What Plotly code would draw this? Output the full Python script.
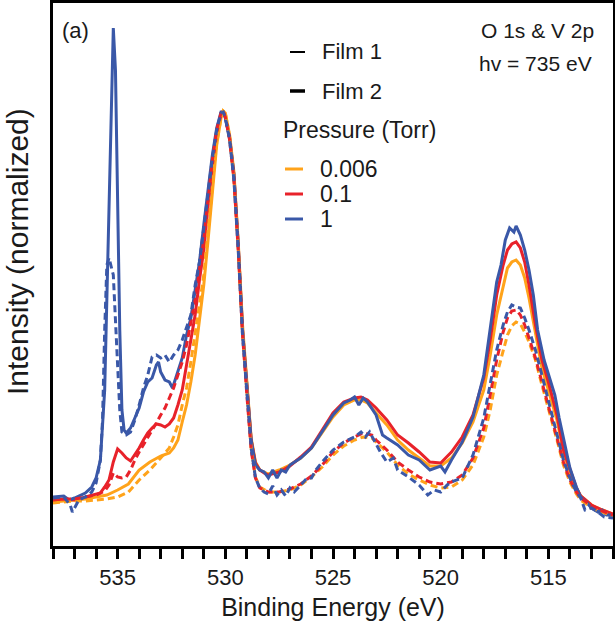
import plotly.graph_objects as go

# ---------------- data (binding energy in eV, intensity in a.u.) ----------------
E_B1 = [538, 537.5, 537.25, 537, 536.5, 536.2, 536.0, 535.8, 535.6, 535.45, 535.3, 535.2, 535.1, 535.0,
        534.9, 534.8, 534.7, 534.6, 534.4, 534.2, 534.0, 533.8, 533.6, 533.4, 533.2, 533.1, 533.0, 532.8,
        532.6, 532.45, 532.2, 532.0, 531.8, 531.6, 531.4, 531.2, 531.0, 530.8, 530.6, 530.4, 530.2, 530.1,
        530.0, 529.8, 529.6, 529.4, 529.2, 529.0, 528.8, 528.6, 528.4, 528.2, 528.0, 527.8, 527.6, 527.4,
        527.2, 527.0, 526.5, 526.0, 525.5, 525.0, 524.5, 524.2, 524.0, 523.8, 523.6, 523.4, 523.0, 522.7,
        522.5, 522.0, 521.5, 521.0, 520.5, 520.2, 520.0, 519.8, 519.5, 519.0, 518.5, 518.0, 517.8, 517.6,
        517.4, 517.2, 517.0, 516.8, 516.6, 516.5, 516.3, 516.1, 515.9, 515.7, 515.5, 515.2, 515.0, 514.7,
        514.5, 514.2, 514.0, 513.7, 513.5, 513.2, 513.0, 512.7, 512.5, 512.3, 512.0]
I_B1 = [0.75, 1.0, 0, 0.5, 1.75, 3.25, 5.5, 10, 27.5, 60, 100, 118, 107.5, 75,
        42.5, 22.5, 17.5, 16.75, 18, 20.5, 23, 27, 29.5, 30.5, 33.75, 34.5, 32, 30,
        29.5, 28, 32, 35.5, 41.25, 45.5, 52.5, 59.5, 68.75, 77.5, 86.25, 93, 97, 97,
        95.5, 90.5, 81.25, 63.75, 42.5, 28.75, 15, 8.75, 7.5, 7, 5.5, 7.5, 5.5, 7.5,
        7, 8.75, 10.5, 13, 17, 21.25, 24.25, 25, 25.75, 23.75, 25.5, 24.5, 21.25, 16.25,
        15.5, 13.75, 11.25, 10, 7.5, 8, 8.5, 7, 10, 14.5, 20.75, 31.25, 38.75, 47.5,
        54.5, 58.75, 65, 68, 67, 68.5, 66.25, 62.5, 57.5, 51.25, 42.5, 35, 31.25, 26.25,
        20.5, 12.5, 8, 3.25, 0.75, -0.75, -2, -3, -2.5, -3.75, -3.75]

E_B2 = [538, 537.5, 537.2, 537.1, 536.8, 536.5, 536.2, 536.0, 535.8, 535.7, 535.6, 535.5, 535.4, 535.3,
        535.2, 535.1, 535.0, 534.9, 534.8, 534.6, 534.4, 534.2, 534.0, 533.8, 533.6, 533.4, 533.2, 533.0,
        532.8, 532.6, 532.4, 532.2, 532.0, 531.8, 531.6, 531.4, 531.2, 531.0, 530.8, 530.6, 530.4, 530.2,
        530.1, 530.0, 529.8, 529.6, 529.4, 529.2, 529.0, 528.8, 528.6, 528.4, 528.2, 528.0, 527.8, 527.6,
        527.4, 527.2, 527.0, 526.8, 526.5, 526.2, 526.0, 525.8, 525.5, 525.0, 524.5, 524.0, 523.7, 523.5,
        523.3, 523.1, 522.8, 522.5, 522.2, 522.0, 521.5, 521.0, 520.6, 520.3, 520.0, 519.7, 519.5, 519.0,
        518.5, 518.0, 517.7, 517.4, 517.1, 516.9, 516.7, 516.5, 516.3, 516.1, 515.9, 515.6, 515.3, 515.0,
        514.6, 514.3, 514.0, 513.7, 513.5, 513.3, 513.0, 512.7, 512.4, 512.0]
I_B2 = [0.5, 0.75, -1.25, -3, 0, 0.75, 2, 4.25, 10, 20, 42.5, 58.75, 60.5, 58,
        56.25, 45, 32.5, 22.5, 17, 16.25, 17, 20, 23.75, 28, 31.25, 35.75, 36.25, 35.5,
        36.25, 34.5, 36.25, 37.5, 40, 43, 46.25, 53.75, 59.5, 68, 77, 85.5, 92.5, 96.75,
        97, 95.5, 90, 80, 62.5, 41.25, 27, 13, 5.5, 3, 2, 1.5, 3.5, 1.25,
        2.5, 1, 3, 2, 3.75, 5.5, 5.5, 7.5, 9.5, 12.5, 14.5, 15.75, 17, 15.75,
        17, 15, 12, 9.5, 10.5, 7.5, 5.75, 3.75, 1.25, 2.5, 2, 3.75, 4.5, 5.5,
        11.25, 20.5, 28.75, 37.5, 43.75, 47, 48.75, 48.25, 48, 45.5, 42.5, 37.5, 31.25, 25,
        16.25, 10, 5.5, 2, 0.5, -2.5, -2, -3, -4.25, -4.5]

E_R1 = [538, 537.5, 537.0, 536.5, 536.0, 535.8, 535.6, 535.4, 535.2, 535.0, 534.8, 534.6, 534.4, 534.2,
        534.0, 533.8, 533.6, 533.4, 533.2, 533.0, 532.8, 532.6, 532.4, 532.2, 532.0, 531.8, 531.6, 531.4,
        531.2, 531.0, 530.8, 530.6, 530.4, 530.2, 530.1, 530.0, 529.8, 529.6, 529.4, 529.2, 529.0, 528.8,
        528.6, 528.4, 528.2, 528.0, 527.5, 527.0, 526.5, 526.0, 525.5, 525.0, 524.5, 524.0, 523.7, 523.4,
        523.0, 522.5, 522.0, 521.5, 521.0, 520.5, 520.0, 519.5, 519.0, 518.5, 518.0, 517.7, 517.4, 517.1,
        516.9, 516.7, 516.5, 516.3, 516.1, 515.9, 515.6, 515.3, 515.0, 514.6, 514.3, 514.0, 513.7, 513.5,
        513.0, 512.5, 512.0]
I_R1 = [0, 0.25, 0, 0.75, 1.5, 1.75, 3.25, 5, 9.5, 12.75, 11.75, 10.5, 9.75, 11.25,
        13, 15, 16.75, 18, 19, 18.75, 18.25, 19, 20.5, 23.75, 27.5, 33.75, 39.5, 46.25,
        55, 62.5, 73.75, 83.75, 91.75, 96.5, 97.25, 95.75, 90.5, 81.25, 63.75, 42.5, 28.75, 15,
        9.25, 7.5, 6.75, 6.25, 7, 8.5, 10.75, 13.25, 17.5, 21.75, 24.5, 25.5, 25.75, 25,
        23, 20, 16.25, 14.25, 12, 9.5, 9.25, 12, 15.75, 21.25, 30.5, 40, 51.25, 58.75,
        62.5, 64, 64.5, 63, 59.5, 53.75, 43.75, 35, 29.5, 21.25, 12.5, 7.5, 3, 1,
        -1.25, -2.5, -3.5]

E_R2 = [538, 537.5, 537.0, 536.5, 536.0, 535.6, 535.4, 535.2, 535.0, 534.8, 534.6, 534.4, 534.2, 534.0,
        533.8, 533.6, 533.4, 533.2, 533.0, 532.8, 532.6, 532.4, 532.2, 532.0, 531.8, 531.6, 531.4, 531.2,
        531.0, 530.8, 530.6, 530.4, 530.2, 530.1, 530.0, 529.8, 529.6, 529.4, 529.2, 529.0, 528.8, 528.6,
        528.4, 528.0, 527.5, 527.0, 526.5, 526.0, 525.5, 525.0, 524.5, 524.0, 523.6, 523.2, 523.0, 522.5,
        522.0, 521.5, 521.0, 520.5, 520.0, 519.5, 519.0, 518.5, 518.0, 517.7, 517.4, 517.1, 516.9, 516.7,
        516.5, 516.3, 516.1, 515.9, 515.6, 515.3, 515.0, 514.6, 514.3, 514.0, 513.7, 513.5, 513.0, 512.5,
        512.0]
I_R2 = [0, 0.25, 0.25, 0.75, 1.25, 2.25, 3.75, 6.75, 5.75, 5.5, 5.75, 7.5, 10, 12,
        13.75, 15.75, 17.5, 19.25, 21.25, 23, 25.5, 28, 31.25, 34.5, 38.75, 44.5, 50, 57.5,
        65, 75, 85, 92.5, 96.75, 97.25, 95.75, 90, 80, 62.5, 41.25, 26.25, 12.5, 5.5,
        3, 2, 2, 2.75, 4, 6, 8.75, 12, 14.25, 15.75, 16.75, 16.25, 15, 12.5,
        9.5, 7.5, 5.75, 4.5, 4, 4.5, 6.25, 10.5, 18, 26.25, 35, 42, 45.5, 47.25,
        47.5, 46.25, 43.75, 40.5, 35.5, 29.5, 23.75, 15.5, 9.5, 5, 2, 0.5, -1.5, -2.75,
        -3.75]

E_O1 = [538, 537.5, 537.0, 536.5, 536.0, 535.5, 535.0, 534.5, 534.0, 533.5, 533.0, 532.6, 532.4, 532.2,
        532.0, 531.8, 531.6, 531.4, 531.2, 531.0, 530.8, 530.6, 530.4, 530.2, 530.1, 530.0, 529.8, 529.6,
        529.4, 529.2, 529.0, 528.8, 528.6, 528.4, 528.0, 527.5, 527.0, 526.5, 526.0, 525.5, 525.0, 524.5,
        524.0, 523.7, 523.4, 523.0, 522.5, 522.0, 521.5, 521.0, 520.5, 520.0, 519.5, 519.0, 518.5, 518.0,
        517.7, 517.4, 517.1, 516.9, 516.7, 516.5, 516.3, 516.1, 515.9, 515.6, 515.3, 515.0, 514.6, 514.3,
        514.0, 513.7, 513.5, 513.0, 512.5, 512.0]
I_O1 = [-0.5, -0.25, 0, 0.25, 0.75, 1.25, 2.5, 4, 7.5, 9.5, 11, 11.75, 13, 15,
        19.5, 23.75, 29.5, 36.25, 45, 53.75, 65, 77.5, 88.75, 95.5, 97.25, 96.75, 91.25, 82,
        64.5, 43.75, 29.5, 15.5, 9.5, 7.5, 6.5, 7.5, 8.75, 10.5, 13, 16.75, 20.75, 23.75,
        25, 25, 24.25, 21.75, 18.75, 15, 12.5, 10.5, 8.5, 8.5, 10.5, 14.25, 19.5, 27.5,
        36.25, 46.25, 53.75, 58, 59.5, 60, 58.75, 55.5, 50.5, 41.25, 33, 27.5, 20, 12,
        7, 3, 1, -1.25, -2.5, -3.5]

E_O2 = [538, 537.5, 537.0, 536.5, 536.0, 535.5, 535.0, 534.5, 534.0, 533.5, 533.0, 532.6, 532.4, 532.2,
        532.0, 531.8, 531.6, 531.4, 531.2, 531.0, 530.8, 530.6, 530.4, 530.2, 530.1, 530.0, 529.8, 529.6,
        529.4, 529.2, 529.0, 528.8, 528.6, 528.4, 528.0, 527.5, 527.0, 526.5, 526.0, 525.5, 525.0, 524.5,
        524.0, 523.6, 523.2, 523.0, 522.5, 522.0, 521.5, 521.0, 520.5, 520.0, 519.5, 519.0, 518.5, 518.0,
        517.7, 517.4, 517.1, 516.9, 516.7, 516.5, 516.3, 516.1, 515.9, 515.6, 515.3, 515.0, 514.6, 514.3,
        514.0, 513.7, 513.5, 513.0, 512.5, 512.0]
I_O2 = [-0.75, -0.5, -0.25, -0.25, 0, 0.25, 0.75, 2, 5, 7.5, 10.5, 13, 15.75, 18.75,
        23.75, 28, 34.5, 41.25, 48.75, 56.25, 67.5, 78.75, 89.25, 95.5, 97.25, 96.75, 90.75, 80.5,
        63, 41.75, 26.75, 13, 5.75, 3.25, 2, 2, 2.5, 3.75, 5.75, 8.25, 11.25, 13.5,
        15, 15.75, 15.5, 14.5, 12, 8.75, 6.5, 5, 3.75, 3, 3.25, 5, 8.75, 15.75,
        22.5, 31.25, 37.5, 41.25, 43.5, 44.5, 44, 42, 39.5, 35, 28.75, 23, 15, 8.75,
        4.5, 1.5, 0, -2, -3, -4]

pressures = ["0.006", "0.1", "1"]
colors = ["#FFA31A", "#E8222A", "#3A58A8"]
films = ["Film 1", "Film 2"]
x_range = [538, 512]
y_range = [-11.5, 124.25]
x_ticks = [535, 530, 525, 520, 515]

# ---------------- figure ----------------
W, H = 615, 630
ML, MR, MT, MB = 53, 2, 3, 84
FONT = "Liberation Sans, Arial, sans-serif"

fig = go.Figure()
film1 = [(E_O1, I_O1), (E_R1, I_R1), (E_B1, I_B1)]
film2 = [(E_O2, I_O2), (E_R2, I_R2), (E_B2, I_B2)]
for (e, i), c, p in zip(film1, colors, pressures):
    fig.add_trace(go.Scatter(x=e, y=i, mode="lines", name=f"Film 1, {p} Torr",
                             line=dict(color=c, width=3), showlegend=False))
for (e, i), c, p in zip(film2, colors, pressures):
    fig.add_trace(go.Scatter(x=e, y=i, mode="lines", name=f"Film 2, {p} Torr",
                             line=dict(color=c, width=3, dash="7px,4px"), showlegend=False))

pw, ph = W - ML - MR, H - MT - MB
def px(x):
    return (x - ML) / pw
def py(y):
    return (H - MB - y) / ph

annotations = []
shapes = []
def text(x, y, s, size, anchor="left", angle=0):
    annotations.append(dict(x=px(x), y=py(y), xref="paper", yref="paper", text=s, showarrow=False,
                            xanchor=anchor, yanchor="middle", textangle=angle,
                            font=dict(family=FONT, size=size, color="#1a1a1a")))
def seg(x0, x1, y, color, width):
    shapes.append(dict(type="line", xref="paper", yref="paper", x0=px(x0), x1=px(x1), y0=py(y), y1=py(y),
                       line=dict(color=color, width=width)))

# legend (film styles)
seg(290, 305, 52, "black", 2)
text(320, 52, films[0], 22)
seg(290, 305, 91, "black", 3.5)
text(320, 91, films[1], 22)
text(281, 130, "Pressure (Torr)", 23)
for k, (p, c) in enumerate(zip(pressures, colors)):
    yy = 169 + 25 * k
    seg(285, 303, yy, c, 3)
    text(318, yy, p, 23)

text(60, 31, "(a)", 22)
text(596, 31, "O 1s &amp; V 2p", 21, anchor="right")
text(594, 63, "hv = 735 eV", 21, anchor="right")
text(17, 252, "Intensity (normalized)", 30, anchor="center", angle=-90)

fig.update_layout(
    width=W, height=H,
    margin=dict(l=ML, r=MR, t=MT, b=MB, autoexpand=False),
    paper_bgcolor="white", plot_bgcolor="white",
    font=dict(family=FONT, color="#1a1a1a"),
    annotations=annotations, shapes=shapes,
    showlegend=False,
)
fig.update_xaxes(
    range=x_range, showgrid=False, zeroline=False,
    showline=True, linecolor="black", linewidth=3, mirror=True,
    tickmode="array", tickvals=x_ticks, ticktext=[str(t) for t in x_ticks],
    ticks="outside", ticklen=10, tickwidth=2.5, tickcolor="black",
    tickfont=dict(family=FONT, size=22, color="#1a1a1a"),
    minor=dict(dtick=1, tick0=512, ticks="outside", ticklen=10, tickwidth=2.5, tickcolor="black", showgrid=False),
    title=dict(text="Binding Energy (eV)", font=dict(family=FONT, size=25, color="#1a1a1a"), standoff=10),
)
fig.update_yaxes(
    range=y_range, showgrid=False, zeroline=False,
    showline=True, linecolor="black", linewidth=3, mirror=True,
    showticklabels=False, ticks="",
)

# remove the default page margin so the figure sits at the window origin
fig.write_html("out.html", config={"displayModeBar": False},
               post_script="document.body.style.margin='0';")
